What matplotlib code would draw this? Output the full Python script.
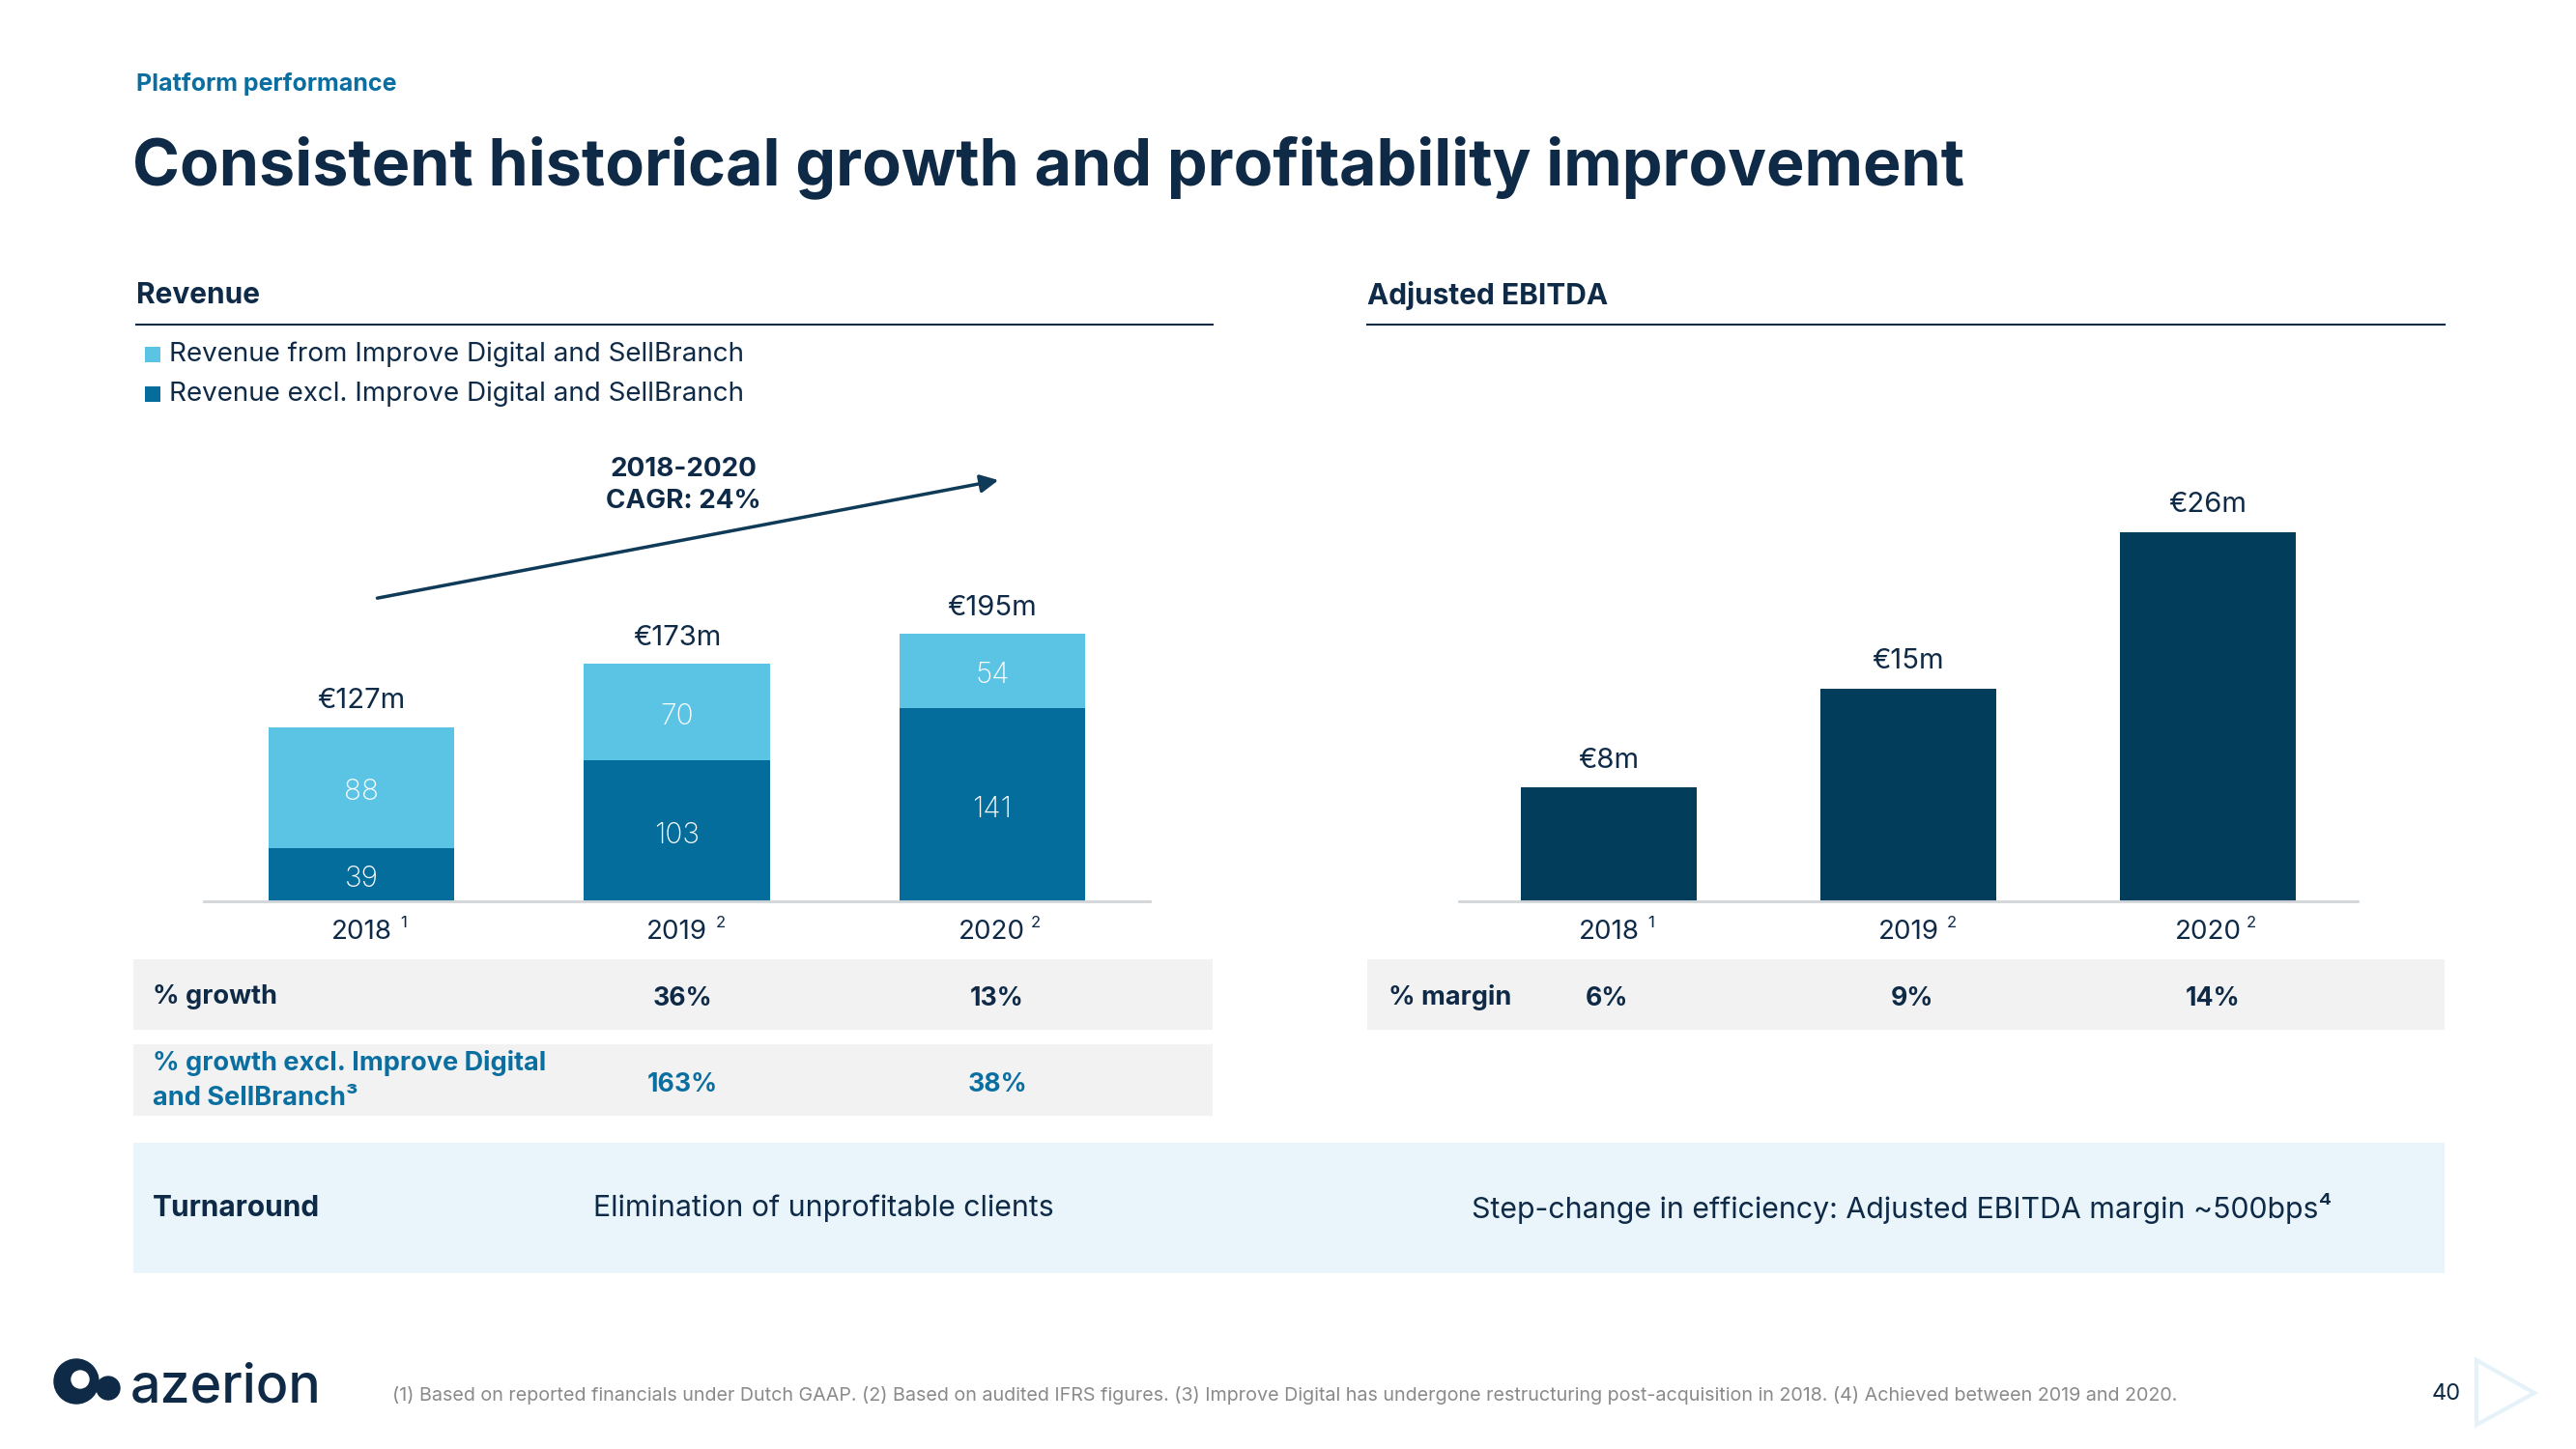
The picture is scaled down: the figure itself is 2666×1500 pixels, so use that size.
import matplotlib.pyplot as plt
from matplotlib.lines import Line2D
from matplotlib.patches import Rectangle, Ellipse, Polygon

# Data
years = ["2018", "2019", "2020"]
year_notes = ["1", "2", "2"]
rev_excl = [39, 103, 141]       # revenue excl. Improve Digital and SellBranch
rev_improve = [88, 70, 54]      # revenue from Improve Digital and SellBranch
ebitda = [8, 15, 26]
growth = ["", "36%", "13%"]
growth_excl = ["", "163%", "38%"]
margin = ["6%", "9%", "14%"]
cagr_label = "2018-2020\nCAGR: 24%"
footnote = ("(1) Based on reported financials under Dutch GAAP. (2) Based on audited IFRS figures. "
            "(3) Improve Digital has undergone restructuring post-acquisition in 2018. "
            "(4) Achieved between 2019 and 2020.")

# Colours
NAVY = "#0e2a47"
TEAL = "#0a6fa0"
LIGHT = "#5bc4e4"
DARK = "#046d9c"
EBIT = "#023d5c"
GRAY_BG = "#f2f2f2"
BAND = "#eaf5fb"
BASE = "#d3d6d9"

plt.rcParams['font.family'] = ['Inter', 'DejaVu Sans']

W, H = 2666, 1500
fig = plt.figure(figsize=(W / 100, H / 100), dpi=100)


# Pixel helpers (x from left, y from top).
def ftext(x, y, s, **kw):
    kw.setdefault("color", NAVY)
    return fig.text(x / W, 1 - y / H, s, **kw)


def frect(x0, y0, x1, y1, color):
    fig.add_artist(Rectangle((x0 / W, 1 - y1 / H), (x1 - x0) / W, (y1 - y0) / H,
                             transform=fig.transFigure, facecolor=color,
                             edgecolor="none", zorder=0))


def fline(x0, x1, y, color=NAVY, lw=1.5):
    fig.add_artist(Line2D([x0 / W, x1 / W], [1 - y / H, 1 - y / H],
                          transform=fig.transFigure, color=color, lw=lw))


def fax(x0, x1, ytop, ybot):
    return fig.add_axes([x0 / W, 1 - ybot / H, (x1 - x0) / W, (ybot - ytop) / H])


def style_axis(ax):
    for s in ["top", "left", "right"]:
        ax.spines[s].set_visible(False)
    ax.spines["bottom"].set_color(BASE)
    ax.spines["bottom"].set_linewidth(2)
    ax.set_xticks([])
    ax.set_yticks([])
    ax.set_xlim(-0.5, 2.5)
    ax.patch.set_alpha(0)


def year_labels(ax):
    for i, (yr, note) in enumerate(zip(years, year_notes)):
        ax.annotate(yr, (i, 0), xytext=(0, -32), textcoords="offset pixels",
                    ha="center", va="center", fontsize=20, color=NAVY,
                    annotation_clip=False)
        ax.annotate(note, (i, 0), xytext=(40, -22), textcoords="offset pixels",
                    ha="left", va="center", fontsize=12, color=NAVY,
                    annotation_clip=False)


# Titles
ftext(141, 87, "Platform performance", fontsize=18, fontweight="bold", color=TEAL, va="center")
ftext(137, 173, "Consistent historical growth and profitability improvement",
      fontsize=47.8, fontweight="bold", va="center")

# Section headers
ftext(141, 306, "Revenue", fontsize=21.5, fontweight="bold", va="center")
fline(141, 1255, 336)
ftext(1415, 306, "Adjusted EBITDA", fontsize=21.5, fontweight="bold", va="center")
fline(1415, 2530, 336)

# Legend
frect(150, 359, 166, 375, LIGHT)
ftext(175, 367, "Revenue from Improve Digital and SellBranch", fontsize=20, va="center")
frect(150, 400, 166, 416, DARK)
ftext(175, 408, "Revenue excl. Improve Digital and SellBranch", fontsize=20, va="center")

# Revenue chart
ax1 = fax(211, 1190, 440, 933)
style_axis(ax1)
ax1.set_ylim(0, 493 / 1.42)
x = range(len(years))
ax1.bar(x, rev_excl, width=0.59, color=DARK)
ax1.bar(x, rev_improve, width=0.59, bottom=rev_excl, color=LIGHT)
for i in x:
    a, b = rev_excl[i], rev_improve[i]
    ax1.annotate(str(a), (i, a / 2), xytext=(0, -5), textcoords="offset pixels",
                 ha="center", va="center", fontsize=21.5, fontweight="light", color="white")
    ax1.annotate(str(b), (i, a + b / 2), xytext=(0, -5), textcoords="offset pixels",
                 ha="center", va="center", fontsize=21.5, fontweight="light", color="white")
    ax1.annotate(f"€{a + b}m", (i, a + b), xytext=(0, 27), textcoords="offset pixels",
                 ha="center", va="center", fontsize=21, color=NAVY)
year_labels(ax1)

# CAGR arrow
ax1.annotate("", xy=(2.02, 307), xytext=(0.05, 221),
             arrowprops=dict(arrowstyle="-|>", color="#0f3a58", lw=2.5,
                             mutation_scale=28, shrinkA=0, shrinkB=0),
             annotation_clip=False)
ax1.text(1.02, 303, cagr_label, ha="center", va="center", fontsize=20,
         fontweight="bold", color=NAVY, linespacing=1.35)

# EBITDA chart
ax2 = fax(1510, 2440, 480, 933)
style_axis(ax2)
ax2.set_ylim(0, 453 / 14.7)
ax2.bar(x, ebitda, width=0.587, color=EBIT)
for i in x:
    ax2.annotate(f"€{ebitda[i]}m", (i, ebitda[i]), xytext=(0, 28),
                 textcoords="offset pixels", ha="center", va="center",
                 fontsize=21, color=NAVY)
year_labels(ax2)

# Growth rows
rev_cols = [375, 706, 1032]
frect(138, 993, 1255, 1066, GRAY_BG)
ftext(158, 1032, "% growth", fontsize=19.5, fontweight="bold", va="center")
for cx, v in zip(rev_cols, growth):
    ftext(cx, 1034, v, fontsize=19.2, fontweight="bold", ha="center", va="center")

frect(138, 1081, 1255, 1155, GRAY_BG)
ftext(158, 1101, "% growth excl. Improve Digital", fontsize=19.5, fontweight="bold",
      va="center", color=TEAL)
ftext(158, 1137, "and SellBranch³", fontsize=19.5, fontweight="bold",
      va="center", color=TEAL)
for cx, v in zip(rev_cols, growth_excl):
    ftext(cx, 1123, v, fontsize=19.2, fontweight="bold", ha="center", va="center", color=TEAL)

# Margin row
frect(1415, 993, 2530, 1066, GRAY_BG)
ftext(1437, 1032, "% margin", fontsize=19.5, fontweight="bold", va="center")
for cx, v in zip([1663, 1979, 2290], margin):
    ftext(cx, 1034, v, fontsize=19.2, fontweight="bold", ha="center", va="center")

# Turnaround band
frect(138, 1183, 2530, 1318, BAND)
ftext(158, 1251, "Turnaround", fontsize=21.5, fontweight="bold", va="center")
ftext(614, 1251, "Elimination of unprofitable clients", fontsize=21.8, va="center")
ftext(1523, 1251, "Step-change in efficiency: Adjusted EBITDA margin ~500bps⁴",
      fontsize=21.8, va="center")

# Footer: logo, footnote, page number
for cx, cy, r, c in [(79, 1430, 23, NAVY), (83, 1428, 9, "white"), (112, 1437, 12, NAVY)]:
    fig.add_artist(Ellipse((cx / W, 1 - cy / H), 2 * r / W, 2 * r / H,
                           transform=fig.transFigure, color=c))
ftext(135, 1452, "azerion", fontsize=40, fontweight="medium", va="baseline")
ftext(406, 1444, footnote, fontsize=14.2, va="center", color="#8a8a8a")
ftext(2532, 1443, "40", fontsize=17, ha="center", va="center")
fig.add_artist(Polygon([(2563 / W, 1 - 1408 / H), (2563 / W, 1 - 1475 / H),
                        (2623 / W, 1 - 1442 / H)], closed=True, fill=False,
                       edgecolor="#e6f2f9", lw=3, transform=fig.transFigure))

fig.savefig("out.png", dpi=100)
